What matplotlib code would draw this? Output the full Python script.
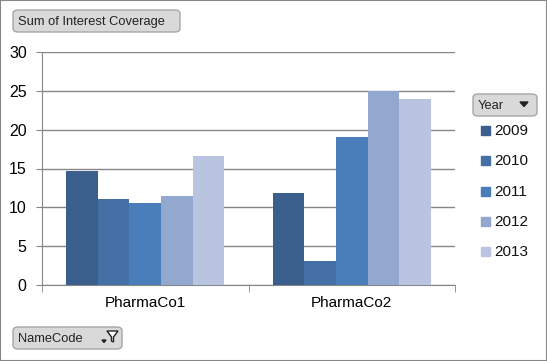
import matplotlib
matplotlib.use('Agg')
import matplotlib.pyplot as plt
from matplotlib.patches import FancyBboxPatch, Rectangle, Polygon
import numpy as np

companies = ['PharmaCo1', 'PharmaCo2']
years = ['2009', '2010', '2011', '2012', '2013']
coverage = {
    '2009': [14.7, 11.8],
    '2010': [11.1, 3.1],
    '2011': [10.5, 19.0],
    '2012': [11.4, 25.0],
    '2013': [16.6, 24.0],
}
colors = ['#3B5F8D', '#4470A6', '#4A7EBB', '#93A8CE', '#B9C5E0']
yticks = [0, 5, 10, 15, 20, 25, 30]

W, H = 547, 361
fig = plt.figure(figsize=(W / 100, H / 100), dpi=100)
plt.rcParams['font.family'] = ['Liberation Sans', 'DejaVu Sans']


def fx(px):
    return px / W


def fy(py):
    return 1 - py / H


# outer border
fig.patches.append(Rectangle((0, 0), 1, 1, transform=fig.transFigure,
                             fill=False, edgecolor='#878787', linewidth=1.5))

ax = fig.add_axes([fx(42), fy(285), fx(455) - fx(42), fy(52) - fy(285)])
x = np.arange(len(companies))
bw = 0.153
for i, yr in enumerate(years):
    ax.bar(x + (i - 2) * bw, coverage[yr], width=bw, color=colors[i],
           edgecolor='none', zorder=3, label=yr)

ax.set_xlim(-0.5, 1.5)
ax.set_ylim(0, 30)
ax.set_yticks(yticks)
ax.set_yticklabels([str(t) for t in yticks], fontsize=11.5)
ax.set_xticks(x)
ax.set_xticklabels(companies, fontsize=11)
ax.tick_params(axis='x', length=0, pad=8)
ax.tick_params(axis='y', length=4, color='#868686', pad=7)
ax.set_xticks([-0.5, 0.5, 1.5], minor=True)
ax.tick_params(axis='x', which='minor', length=5, color='#868686')
ax.yaxis.grid(True, color='#868686', linewidth=1, zorder=0)
for s in ['top', 'right']:
    ax.spines[s].set_visible(False)
ax.spines['left'].set_color('#868686')
ax.spines['bottom'].set_color('#868686')


def button(x0, y0, x1, y1, text):
    fig.patches.append(FancyBboxPatch((fx(x0), fy(y1)), fx(x1) - fx(x0), fy(y0) - fy(y1),
                                      boxstyle='round,pad=0,rounding_size=0.01',
                                      transform=fig.transFigure, facecolor='#D9D9D9',
                                      edgecolor='#A6A6A6', linewidth=1))
    fig.text(fx(x0 + 5), fy((y0 + y1) / 2 + 1), text, fontsize=9.3, va='center',
             ha='left', color='#222222')


button(13, 10, 180, 32, 'Sum of Interest Coverage')
button(13, 327, 122, 349, 'NameCode')
button(473, 94, 537, 116, 'Year')

# dropdown arrow for Year
fig.patches.append(Polygon([(fx(520), fy(102)), (fx(528), fy(102)), (fx(524), fy(106.5))],
                           closed=True, transform=fig.transFigure, color='#222222'))
# filter icon for NameCode
fig.patches.append(Polygon([(fx(107), fy(331)), (fx(118), fy(331)), (fx(113.5), fy(337)),
                            (fx(113.5), fy(342)), (fx(111.5), fy(341)), (fx(111.5), fy(337))],
                           closed=True, transform=fig.transFigure, facecolor='white',
                           edgecolor='#222222', linewidth=1))
fig.patches.append(Polygon([(fx(102), fy(340)), (fx(106), fy(340)), (fx(104), fy(342.5))],
                           closed=True, transform=fig.transFigure, color='#222222'))

# legend
for i, yr in enumerate(years):
    yc = 131 + i * 30.3
    fig.patches.append(Rectangle((fx(481), fy(yc + 4)), fx(9), fy(0) - fy(9),
                                 transform=fig.transFigure, color=colors[i]))
    fig.text(fx(494), fy(yc), yr, fontsize=11, va='center', ha='left', color='#111111')

fig.savefig('out.png', dpi=100)
